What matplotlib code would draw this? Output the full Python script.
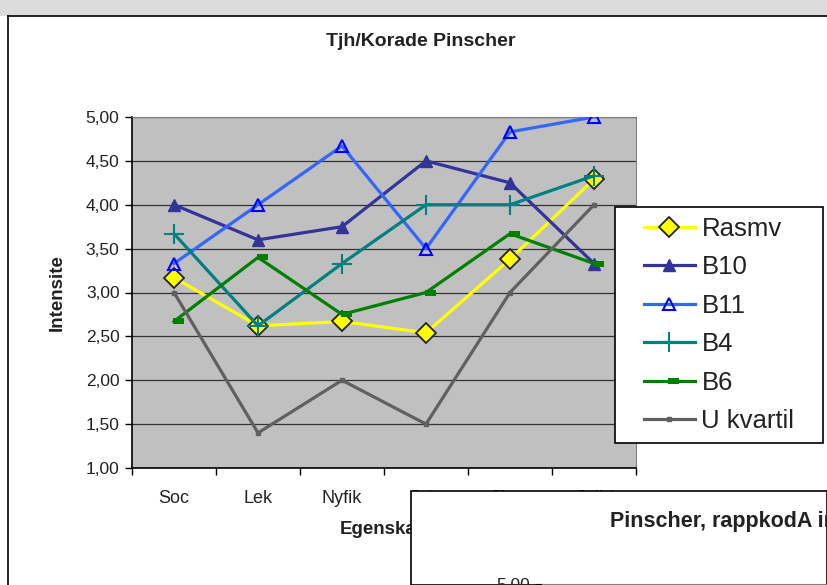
import matplotlib.pyplot as plt
from matplotlib.patches import Rectangle
import numpy as np

plt.rcParams['font.family'] = ['Liberation Sans', 'DejaVu Sans']

# -------------------------
# Data
# -------------------------
categories = ['Soc', 'Lek', 'Nyfik', 'Jakt', 'Skott', 'Oräd']
series_names = ['Rasmv', 'B10', 'B11', 'B4', 'B6', 'U kvartil']
rasmv = [3.17, 2.62, 2.67, 2.54, 3.38, 4.29]
b10 = [4.00, 3.60, 3.75, 4.50, 4.25, 3.33]
b11 = [3.33, 4.00, 4.67, 3.50, 4.83, 5.00]
b4 = [3.67, 2.62, 3.33, 4.00, 4.00, 4.33]
b6 = [2.67, 3.40, 2.75, 3.00, 3.67, 3.33]
u_kvartil = [3.00, 1.40, 2.00, 1.50, 3.00, 4.00]

yticks = [1.0, 1.5, 2.0, 2.5, 3.0, 3.5, 4.0, 4.5, 5.0]
ytick_labels = ['1,00', '1,50', '2,00', '2,50', '3,00', '3,50', '4,00', '4,50', '5,00']

W, H = 827, 585
fig = plt.figure(figsize=(W / 100, H / 100), dpi=100)

def px(x, y, w, h):
    # pixel box (top-left origin) -> figure fraction
    return [x / W, 1 - (y + h) / H, w / W, h / H]

# grey strip at the very top (background behind the chart window)
fig.patches.append(Rectangle((0, 1 - 16 / H), 1, 16 / H, transform=fig.transFigure,
                             facecolor='#dcdcdc', edgecolor='none', zorder=0))
# chart area frame
fig.add_artist(plt.Line2D([8 / W, 8 / W], [0, 1 - 16 / H], color='black', lw=1.2,
                          transform=fig.transFigure))
fig.add_artist(plt.Line2D([8 / W, 1], [1 - 16 / H, 1 - 16 / H], color='black', lw=1.2,
                          transform=fig.transFigure))

# Excel style "dash" marker, sits a bit right of the data point
dash = [(-1.5, -2.8), (10, -2.8), (10, 2.8), (-1.5, 2.8), (-1.5, -2.8)]

# -------------------------
# Main line chart
# -------------------------
ax = fig.add_axes(px(132, 117, 504, 351))
ax.set_facecolor('#c0c0c0')
x = np.arange(len(categories))

styles = [
    dict(color='#ffff00', marker='D', ms=10.5, mfc='#ffff00', mec='#222222', mew=1.3),
    dict(color='#333399', marker='^', ms=9, mfc='#333399', mec='#333399'),
    dict(color='#3366ff', marker='^', ms=9, mfc='none', mec='#0000ff', mew=1.5),
    dict(color='#008080', marker='+', ms=14, mec='#008080', mew=1.5),
    dict(color='#008000', marker=dash, ms=14, mfc='#008000', mec='#008000', mew=0),
    dict(color='#606060', marker='s', ms=3.5, mfc='#606060', mec='#606060'),
]
all_series = [rasmv, b10, b11, b4, b6, u_kvartil]
for name, vals, st in zip(series_names, all_series, styles):
    ax.plot(x, vals, lw=2.3, label=name, zorder=3, **st)

ax.set_xlim(-0.5, len(categories) - 0.5)
ax.set_ylim(1, 5)
ax.set_yticks(yticks)
ax.set_yticklabels(ytick_labels, fontsize=12.5, color='#222222')
ax.yaxis.grid(True, color='#333333', lw=0.9)
ax.set_axisbelow(True)
ax.set_xticks(x)
ax.set_xticklabels(categories, fontsize=13, color='#222222')
ax.set_xticks(np.arange(-0.5, len(categories)), minor=True)
ax.tick_params(axis='x', which='major', length=0, pad=16)
ax.tick_params(axis='x', which='minor', length=5, width=1, direction='out')
ax.tick_params(axis='y', length=5, width=1, direction='out', pad=4)
for side in ['top', 'right']:
    ax.spines[side].set_color('#808080')
for side in ['left', 'bottom']:
    ax.spines[side].set_color('black')
    ax.spines[side].set_linewidth(1.2)

ax.set_ylabel('Intensite', fontsize=13.5, fontweight='bold', color='#222222', labelpad=14)
ax.set_xlabel('Egenskap', fontsize=13.5, fontweight='bold', color='#222222', labelpad=10)
fig.text(421 / W, 1 - 41 / H, 'Tjh/Korade Pinscher', fontsize=14, fontweight='bold',
         color='#222222', ha='center', va='center')

# legend box drawn separately so its size matches the reference
lx, ly, lw_, lh = px(615, 207, 208, 236)
ax.add_patch(Rectangle((lx, ly), lw_, lh, transform=fig.transFigure, clip_on=False,
                       facecolor='white', edgecolor='black', lw=1.2, zorder=4))
leg = ax.legend(loc='center', bbox_to_anchor=(lx, ly, lw_, lh),
                bbox_transform=fig.transFigure, borderaxespad=0, fontsize=18.5,
                frameon=False, handlelength=2.0, handletextpad=0.25,
                labelspacing=0.56, borderpad=0)
leg.set_zorder(5)
for t in leg.get_texts():
    t.set_color('#222222')

# -------------------------
# Second chart overlapping at bottom right
# -------------------------
fig.patches.append(Rectangle((411 / W, 0), 1 - 411 / W, 1 - 491 / H, transform=fig.transFigure,
                             facecolor='white', edgecolor='black', lw=1.2, zorder=5))
fig.text(610 / W, 1 - 522 / H, 'Pinscher, rappkodA individer', fontsize=15.5,
         fontweight='bold', color='#222222', ha='left', va='center', zorder=6)

ax2 = fig.add_axes(px(542, 584, 400, 351))
ax2.set_zorder(6)
ax2.set_facecolor('#c0c0c0')
ax2.set_xlim(0, 1)
ax2.set_ylim(1, 5)
ax2.set_yticks(yticks)
ax2.set_yticklabels(ytick_labels, fontsize=12.5, color='#222222')
ax2.set_xticks([])
ax2.yaxis.grid(True, color='#333333', lw=0.9)
ax2.tick_params(axis='y', length=5, direction='out')
for side in ax2.spines:
    ax2.spines[side].set_color('#808080')

fig.savefig('out.png', dpi=100)
